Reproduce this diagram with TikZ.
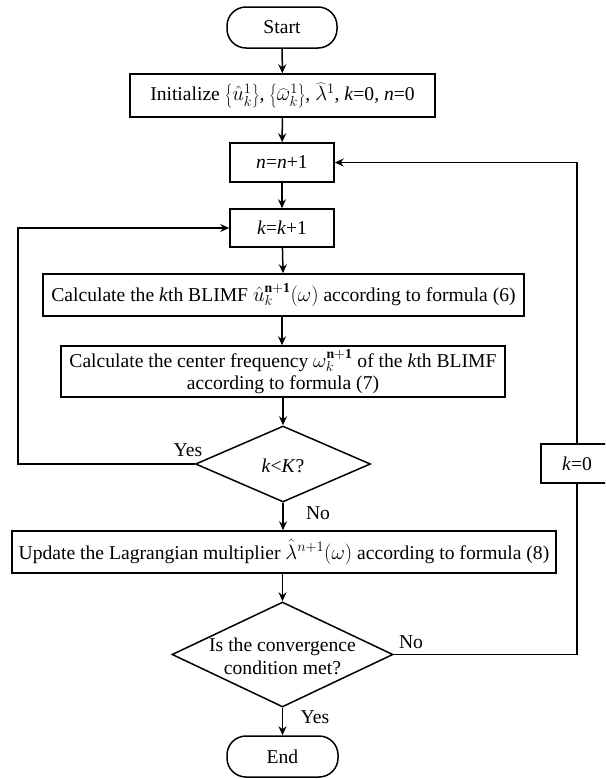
\documentclass[tikz,border=0pt]{standalone}
\usepackage{fontspec}
\setmainfont{Liberation Serif}
\usetikzlibrary{arrows.meta,shapes.geometric}
\tikzset{
  box/.style={draw, line width=1.5pt, rectangle, inner sep=0pt, align=center, font=\fontsize{19.6}{22}\selectfont},
  term/.style={box, rounded corners=19pt},
  dia/.style={draw, line width=1.5pt, diamond, inner sep=0pt},
  txt/.style={inner sep=0pt, align=center, font=\fontsize{19.6}{23}\selectfont},
  conn/.style={line width=1.5pt, -{Stealth[length=9pt,width=8pt,inset=3pt]}},
  plain/.style={line width=1.5pt}
}
\begin{document}
\begin{tikzpicture}[x=1pt,y=-1pt]
\clip (0,0) rectangle (605,779);
\fill[white] (0,0) rectangle (605,779);
\node[term, minimum width=110pt, minimum height=41pt] (start) at (282,27.5) {Start};
\node[box, minimum width=305pt, minimum height=43pt] (init) at (282.5,95.5)
  {Initialize $\left\{\hat{u}_k^1\right\}$, $\left\{\widehat{\omega}_k^1\right\}$, $\widehat{\lambda}^1$, \textit{k}=0, \textit{n}=0};
\node[box, minimum width=104pt, minimum height=39pt] (n1) at (282,162.5) {\textit{n}=\textit{n}+1};
\node[box, minimum width=104pt, minimum height=38pt] (k1) at (282,228) {\textit{k}=\textit{k}+1};
\node[box, minimum width=481pt, minimum height=42pt] (calc1) at (283.5,295)
  {Calculate the \textit{k}th BLIMF $\hat{u}_k^{\mathbf{n+1}}(\omega)$ according to formula (6)};
\node[box, minimum width=444pt, minimum height=51pt] (calc2) at (283,371.5)
  {Calculate the center frequency $\omega_k^{\mathbf{n+1}}$ of the \textit{k}th BLIMF\\according to formula (7)};
\node[dia, minimum width=175pt, minimum height=76pt] (d1) at (283,464) {};
\node[txt] (d1t) at (283,466) {\textit{k}<\textit{K}?};
\node[box, minimum width=544pt, minimum height=42pt] (upd) at (284,552)
  {Update the Lagrangian multiplier $\hat{\lambda}^{n+1}(\omega)$ according to formula (8)};
\node[dia, minimum width=221pt, minimum height=105pt] (d2) at (282.5,654.5) {};
\node[txt] (d2t) at (282.5,656) {Is the convergence\\condition met?};
\node[term, minimum width=111pt, minimum height=41pt] (end) at (282.5,756.5) {End};
\node[box, minimum width=72pt, minimum height=39pt] (k0) at (577,463.5) {\textit{k}=0};
\coordinate (lft) at (18,464);

\node[txt] (yes1) at (188,450) {Yes};
\node[txt] (no1) at (318,513) {No};
\node[txt] (no2) at (411,642) {No};
\node[txt] (yes2) at (315,717) {Yes};

\draw[conn] (start) -- (init);
\draw[conn] (init) -- (n1);
\draw[conn] (n1) -- (k1);
\draw[conn] (k1) -- (calc1);
\draw[conn] (calc1.south -| k1) -- (calc2.north -| k1);
\draw[conn] (calc2.south -| d1) -- (d1.north);
\draw[conn] (d1.south) -- (upd.north -| d1);
\draw[conn] (upd.south -| d2) -- (d2.north);
\draw[conn] (d2.south) -- (end.north -| d2);
\draw[conn] (d1.west) -- (lft) |- (k1.west);
\draw[plain] (d2.east) -| (k0.south);
\draw[conn] (k0.north) |- (n1.east);
\end{tikzpicture}
\end{document}
